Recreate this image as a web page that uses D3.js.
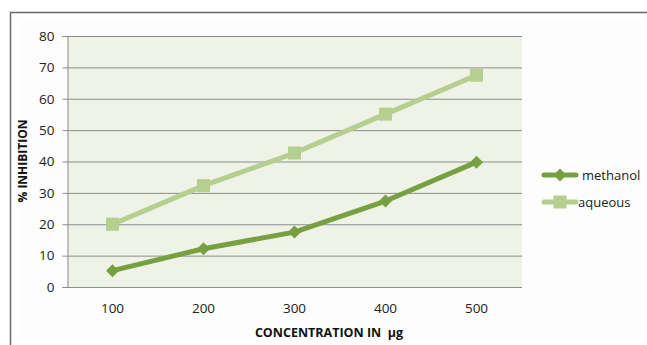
<!DOCTYPE html>
<html><head><meta charset="utf-8">
<script src="https://cdn.jsdelivr.net/npm/d3@7"></script>
<style>body{margin:0;background:#fff;}svg{display:block;font-family:"Open Sans",Lato,sans-serif;}</style>
</head><body><svg id="c" width="647" height="345"></svg>
<script>
const categories = ["100","200","300","400","500"];
const methanol = [5.2, 12.2, 17.5, 27.4, 39.8];
const aqueous = [20.0, 32.3, 42.7, 55.1, 67.5];
const yTicks = [0,10,20,30,40,50,60,70,80];
const seriesNames = ["methanol","aqueous"];
const colors = {methanol:"#77a041", aqueous:"#b4cf8e"};

const svg = d3.select("#c");
// outer frame
svg.append("rect").attr("x",10.5).attr("y",12.5).attr("width",640).attr("height",340)
  .attr("fill","#fff").attr("stroke","#6b6b6b").attr("stroke-width",1.5);
svg.append("rect").attr("x",19).attr("y",21).attr("width",623).attr("height",319).attr("fill","#fdfdfd");

const L=67, R=522, T=36, B=287;
const x = d3.scaleBand().domain(categories).range([L,R]);
const y = d3.scaleLinear().domain([0,80]).range([B,T]);

svg.append("rect").attr("x",L).attr("y",T).attr("width",R-L).attr("height",B-T).attr("fill","#eef2e7");

// gridlines
svg.append("g").selectAll("line").data(yTicks.filter(d=>d>0)).join("line")
  .attr("x1",L).attr("x2",R).attr("y1",d=>y(d)+0.5).attr("y2",d=>y(d)+0.5)
  .attr("stroke","#8e8e8e").attr("stroke-width",1);

// y axis
const ya = svg.append("g").attr("transform",`translate(${L+0.5},0)`)
  .call(d3.axisLeft(y).tickValues(yTicks).tickSize(5).tickPadding(8));
ya.select(".domain").attr("stroke","#8e8e8e");
ya.selectAll(".tick line").attr("stroke","#8e8e8e");
ya.selectAll("text").attr("font-size",13.5).attr("fill","#222").attr("font-family","'Open Sans',sans-serif");

// x axis
const xa = svg.append("g").attr("transform",`translate(0,${B+0.5})`)
  .call(d3.axisBottom(x).tickSize(0).tickPadding(16));
xa.select(".domain").attr("stroke","#8e8e8e").attr("d",`M${L},0H${R}`);
xa.selectAll("text").attr("font-size",13.5).attr("fill","#222").attr("font-family","'Open Sans',sans-serif");

// axis titles
svg.append("text").attr("x",329).attr("y",337).attr("text-anchor","middle").style("white-space","pre")
  .attr("font-size",12.5).attr("font-weight","bold").attr("fill","#111").text("CONCENTRATION IN  μg");
svg.append("text").attr("transform","translate(27,161) rotate(-90)").attr("text-anchor","middle")
  .attr("font-size",12).attr("font-weight","bold").attr("fill","#111").text("% INHIBITION");

const data = {methanol, aqueous};
const line = d3.line().x((d,i)=>x(categories[i])+x.bandwidth()/2).y(d=>y(d));

function drawMarker(g, name, cx, cy){
  if(name==="methanol"){
    g.append("path").attr("d",`M${cx},${cy-6.5}L${cx+6.5},${cy}L${cx},${cy+6.5}L${cx-6.5},${cy}Z`).attr("fill",colors[name]);
  } else {
    g.append("rect").attr("x",cx-6.5).attr("y",cy-6.5).attr("width",13).attr("height",13).attr("fill",colors[name]);
  }
}

["aqueous","methanol"].forEach(name=>{
  const g = svg.append("g");
  g.append("path").datum(data[name]).attr("d",line).attr("fill","none")
    .attr("stroke",colors[name]).attr("stroke-width",5).attr("stroke-linejoin","round");
  data[name].forEach((v,i)=>drawMarker(g,name,x(categories[i])+x.bandwidth()/2,y(v)));
});

// legend
const legY = {methanol:175, aqueous:202};
const legTextX = {methanol:582, aqueous:578};
seriesNames.forEach(name=>{
  const g = svg.append("g");
  g.append("line").attr("x1",544).attr("x2",576).attr("y1",legY[name]).attr("y2",legY[name])
    .attr("stroke",colors[name]).attr("stroke-width",5).attr("stroke-linecap","round");
  drawMarker(g,name,560,legY[name]);
  g.append("text").attr("x",legTextX[name]).attr("y",legY[name]+4.5).attr("font-size",13)
    .attr("fill","#222").text(name);
});
</script></body></html>
